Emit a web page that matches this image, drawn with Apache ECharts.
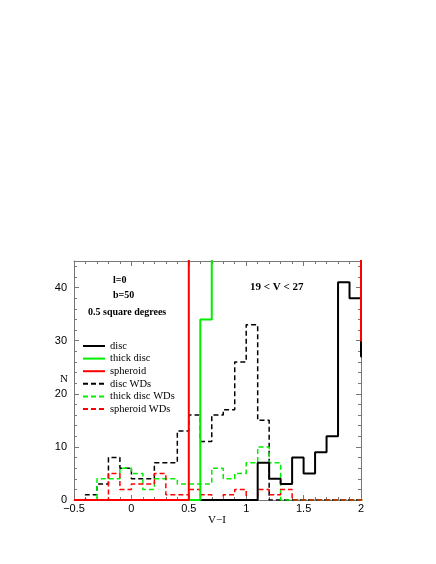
<!DOCTYPE html>
<html>
<head>
<meta charset="utf-8">
<script src="https://cdn.jsdelivr.net/npm/echarts@6/dist/echarts.min.js"></script>
<style>
  html, body { margin: 0; padding: 0; background: #fff; }
  #chart { width: 436px; height: 564px; }
</style>
</head>
<body>
<div id="chart"></div>
<script>
// bin edges in V-I (last bin sits past the axis end)
var edges = [-0.5, -0.4, -0.3, -0.2, -0.1, 0.0, 0.1, 0.2, 0.3, 0.4, 0.5, 0.6, 0.7,
  0.8, 0.9, 1.0, 1.1, 1.2, 1.3, 1.4, 1.5, 1.6, 1.7, 1.8, 1.9, 2.0, 2.1];

// counts per bin (100 = off the top of the plot)
var disc = [0, 0, 0, 0, 0, 0, 0, 0, 0, 0, 0, 0, 0, 0, 0, 0, 7, 4, 3, 8, 5, 9, 12, 41, 38, 27];
var thickDisc = [0, 0, 0, 0, 0, 0, 0, 0, 0, 0, 0, 34, 100, 100, 100, 100, 100, 100, 100, 100, 100, 100, 100, 100, 100, 100];
var spheroid = [0, 0, 0, 0, 0, 0, 0, 0, 0, 0, 100, 100, 100, 100, 100, 100, 100, 100, 100, 100, 100, 100, 100, 100, 100, 30];
var discWDs = [0, 1, 3, 8, 6, 4, 4, 7, 7, 13, 16, 11, 16, 17, 26, 33, 15, 0, 0, 0, 0, 0, 0, 0, 0, 0];
var thickDiscWDs = [0, 0, 4, 4, 6, 5, 2, 4, 4, 3, 3, 3, 6, 4, 5, 7, 10, 7, 0, 0, 0, 0, 0, 0, 0, 0];
var spheroidWDs = [0, 0, 0, 5, 2, 3, 3, 5, 1, 1, 2, 1, 0, 1, 2, 0, 2, 1, 2, 0, 0, 0, 0, 0, 0, 0];

var xTicks = [-0.5, 0, 0.5, 1, 1.5, 2];
var yTicks = [0, 10, 20, 30, 40];

function stepPoints(vals) {
  var pts = [];
  vals.forEach(function (v, i) {
    pts.push([edges[i], v]);
    pts.push([edges[i + 1], v]);
  });
  return pts;
}

function histo(name, vals, color, dashed, width) {
  return {
    name: name,
    type: 'line',
    data: stepPoints(vals),
    symbol: 'none',
    showSymbol: false,
    clip: true,
    animation: false,
    lineStyle: { color: color, width: width, type: dashed ? [5, 3] : 'solid' },
    itemStyle: { color: color }
  };
}

var chart = echarts.init(document.getElementById('chart'));
var frame = '#777';
var tickFont = { fontFamily: 'Liberation Sans', fontSize: 11, color: '#000' };

function axisCommon(extra) {
  return Object.assign({
    axisLine: { show: true, onZero: false, lineStyle: { color: frame } },
    axisTick: { show: true, inside: true, length: 5, lineStyle: { color: frame } },
    minorTick: { show: true, splitNumber: 5, length: 3, lineStyle: { color: frame } },
    splitLine: { show: false }
  }, extra);
}

var option = {
  backgroundColor: '#fff',
  animation: false,
  grid: { left: 74, top: 261, width: 287, height: 239 },
  legend: {
    orient: 'vertical',
    left: 82,
    top: 340,
    padding: 0,
    itemWidth: 22,
    itemHeight: 12,
    itemGap: 0.6,
    itemStyle: { opacity: 0 },
    data: ['disc', 'thick disc', 'spheroid', 'disc WDs', 'thick disc WDs', 'spheroid WDs'],
    textStyle: { fontFamily: 'Liberation Serif', fontSize: 10.5, color: '#000', lineHeight: 12 }
  },
  xAxis: [
    axisCommon({
      type: 'value', min: -0.5, max: 2, interval: 0.5,
      axisLabel: Object.assign({ margin: 3, formatter: function (v) {
        return xTicks.indexOf(v) < 0 ? '' : String(v).replace('-', '\u2212');
      } }, tickFont)
    }),
    axisCommon({
      type: 'value', position: 'top', min: -0.5, max: 2, interval: 0.5,
      axisLabel: { show: false }
    })
  ],
  yAxis: [
    axisCommon({
      type: 'value', min: 0, max: 45, interval: 10,
      axisLabel: Object.assign({ margin: 7, showMaxLabel: false, formatter: function (v) {
        return yTicks.indexOf(v) < 0 ? '' : String(v);
      } }, tickFont)
    }),
    axisCommon({
      type: 'value', position: 'right', min: 0, max: 45, interval: 10,
      axisLabel: { show: false }
    })
  ],
  series: [
    histo('disc WDs', discWDs, '#000000', true, 1.5),
    histo('thick disc WDs', thickDiscWDs, '#00ee00', true, 1.5),
    histo('spheroid WDs', spheroidWDs, '#ff0000', true, 1.5),
    histo('disc', disc, '#000000', false, 2),
    histo('thick disc', thickDisc, '#00ee00', false, 2),
    histo('spheroid', spheroid, '#ff0000', false, 2)
  ],
  graphic: [
    { type: 'text', left: 113, top: 275, style: { text: 'l=0', font: 'bold 10px "Liberation Serif"', fill: '#000' } },
    { type: 'text', left: 113, top: 290, style: { text: 'b=50', font: 'bold 10px "Liberation Serif"', fill: '#000' } },
    { type: 'text', left: 88, top: 307, style: { text: '0.5 square degrees', font: 'bold 10px "Liberation Serif"', fill: '#000' } },
    { type: 'text', left: 250, top: 282, style: { text: '19 < V < 27', font: 'bold 11px "Liberation Serif"', fill: '#000' } },
    { type: 'text', left: 60, top: 374, style: { text: 'N', font: '11px "Liberation Serif"', fill: '#000' } },
    { type: 'text', left: 208, top: 515, style: { text: 'V\u2212I', font: '11px "Liberation Serif"', fill: '#000' } }
  ]
};

chart.setOption(option);
window.onresize = chart.resize;
</script>
</body>
</html>
